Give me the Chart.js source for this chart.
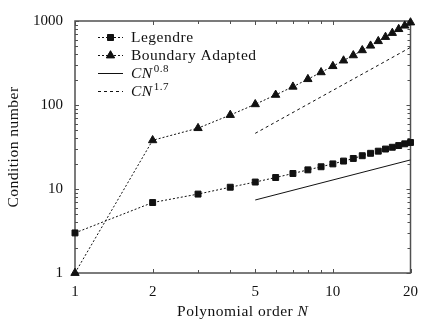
<!DOCTYPE html>
<html>
<head>
<meta charset="utf-8">
<script src="https://cdn.jsdelivr.net/npm/chart.js@4"></script>
<style>
  html, body { margin: 0; padding: 0; background: #fff; }
  #wrap { width: 428px; height: 321px; }
</style>
</head>
<body>
<div id="wrap"><canvas id="myChart"></canvas></div>
<script>
// polynomial order and measured condition numbers
const orders = [1, 2, 3, 4, 5, 6, 7, 8, 9, 10, 11, 12, 13, 14, 15, 16, 17, 18, 19, 20];
const legendre = [3.0, 6.9, 8.7, 10.5, 12.1, 13.7, 15.3, 16.9, 18.4, 19.9, 21.5, 23.1, 24.9, 26.6, 28.2, 29.9, 31.4, 32.9, 34.5, 35.8];
const boundaryAdapted = [1, 38, 53, 76, 102, 132, 165, 203, 245, 290, 338, 390, 448, 508, 575, 645, 720, 800, 880, 960];

// reference slopes, end points only (straight on log-log)
const fitOrders = [5, 20];
const fit08 = [7.4, 22.2];
const fit17 = [46, 485];

const xTickValues = [1, 2, 3, 4, 5, 6, 7, 8, 9, 10, 20];
const xTickLabels = [1, 2, 5, 10, 20];
const yTickLabels = [1, 10, 100, 1000];

const yTickValues = [];
for (let d = 1; d < 1000; d *= 10) {
    for (let k = 1; k < 10; k++) yTickValues.push(k * d);
}
yTickValues.push(1000);

const FONT = "'Liberation Serif', 'Times New Roman', serif";
const INK = '#111';
const AXIS = '#505050';
const TXT = '15.5px ';

Chart.defaults.font.family = FONT;
Chart.defaults.font.size = 15;
Chart.defaults.color = INK;

function pts(xs, ys) {
    return xs.map(function (x, i) { return { x: x, y: ys[i] }; });
}

// box around plot area + inward ticks on all four sides
const frame = {
    id: 'frame',
    beforeDatasetsDraw(chart) {
        const ctx = chart.ctx;
        const a = chart.chartArea;
        const xs = chart.scales.x, ys = chart.scales.y;
        ctx.save();
        ctx.strokeStyle = AXIS;
        ctx.lineWidth = 1;
        xTickValues.forEach(function (v) {
            const px = Math.round(xs.getPixelForValue(v)) + 0.5;
            const len = xTickLabels.includes(v) ? 4 : 3;
            ctx.beginPath();
            ctx.moveTo(px, a.bottom); ctx.lineTo(px, a.bottom - len);
            ctx.moveTo(px, a.top); ctx.lineTo(px, a.top + len);
            ctx.stroke();
        });
        yTickValues.forEach(function (v) {
            const py = Math.round(ys.getPixelForValue(v)) + 0.5;
            const len = yTickLabels.includes(v) ? 4 : 3;
            ctx.beginPath();
            ctx.moveTo(a.left, py); ctx.lineTo(a.left + len, py);
            ctx.moveTo(a.right, py); ctx.lineTo(a.right - len, py);
            ctx.stroke();
        });
        ctx.lineWidth = 1.5;
        ctx.strokeRect(a.left, a.top, a.right - a.left, a.bottom - a.top);
        ctx.restore();
    }
};

// legend entries and axis titles
const decorations = {
    id: 'decorations',
    afterDraw(chart) {
        const ctx = chart.ctx;
        const a = chart.chartArea;
        ctx.save();
        ctx.fillStyle = INK;
        ctx.strokeStyle = INK;
        ctx.textBaseline = 'middle';
        ctx.letterSpacing = '0.5px';

        const rows = [
            { y: 37, dash: [2, 2], marker: 'rect', text: 'Legendre' },
            { y: 55, dash: [2, 2], marker: 'triangle', text: 'Boundary Adapted' },
            { y: 73, dash: [], marker: null, text: 'CN', sup: '0.8' },
            { y: 91, dash: [3, 3], marker: null, text: 'CN', sup: '1.7' }
        ];
        const x0 = 98, x1 = 123, tx = 131;
        rows.forEach(function (r) {
            ctx.lineWidth = 1;
            ctx.setLineDash(r.dash);
            ctx.beginPath();
            ctx.moveTo(x0, r.y + 0.5); ctx.lineTo(x1, r.y + 0.5);
            ctx.stroke();
            ctx.setLineDash([]);
            if (r.marker) {
                Chart.helpers.drawPoint(ctx, {
                    pointStyle: r.marker,
                    radius: r.marker === 'rect' ? 4.2 : 4.8,
                    borderWidth: 1
                }, (x0 + x1) / 2, r.y + 0.5);
                ctx.fill();
            }
            ctx.textAlign = 'left';
            if (r.sup) {
                ctx.font = 'italic ' + TXT + FONT;
                ctx.fillText(r.text, tx, r.y + 1);
                const w = ctx.measureText(r.text).width;
                ctx.font = '11px ' + FONT;
                ctx.fillText(r.sup, tx + w + 1, r.y - 4);
            } else {
                ctx.font = TXT + FONT;
                ctx.fillText(r.text, tx, r.y + 1);
            }
        });

        // x title with italic N
        ctx.font = TXT + FONT;
        const part1 = 'Polynomial order ';
        const w1 = ctx.measureText(part1).width;
        ctx.font = 'italic ' + TXT + FONT;
        const w2 = ctx.measureText('N').width;
        const cx = (a.left + a.right) / 2;
        const sx = cx - (w1 + w2) / 2;
        ctx.textAlign = 'left';
        ctx.font = TXT + FONT;
        ctx.fillText(part1, sx, 312);
        ctx.font = 'italic ' + TXT + FONT;
        ctx.fillText('N', sx + w1, 312);

        // y title
        ctx.translate(14, (a.top + a.bottom) / 2);
        ctx.rotate(-Math.PI / 2);
        ctx.textAlign = 'center';
        ctx.font = TXT + FONT;
        ctx.fillText('Condition number', 0, 0);
        ctx.restore();
    }
};

const ctx = document.getElementById('myChart').getContext('2d');

const chart = new Chart(ctx, {
    type: 'line',
    data: {
        datasets: [{
            label: 'Legendre',
            data: pts(orders, legendre),
            borderColor: INK,
            backgroundColor: INK,
            borderWidth: 1,
            borderDash: [2, 2],
            pointStyle: 'rect',
            pointRadius: 4.2,
            pointBorderWidth: 1,
            clip: false
        },
        {
            label: 'Boundary Adapted',
            data: pts(orders, boundaryAdapted),
            borderColor: INK,
            backgroundColor: INK,
            borderWidth: 1,
            borderDash: [2, 2],
            pointStyle: 'triangle',
            pointRadius: 4.8,
            pointBorderWidth: 1,
            clip: false
        },
        {
            label: 'CN^0.8',
            data: pts(fitOrders, fit08),
            borderColor: INK,
            borderWidth: 1,
            pointRadius: 0
        },
        {
            label: 'CN^1.7',
            data: pts(fitOrders, fit17),
            borderColor: INK,
            borderWidth: 1,
            borderDash: [3, 3],
            pointRadius: 0
        }]
    },
    options: {
        responsive: true,
        maintainAspectRatio: false,
        animation: false,
        events: [],
        layout: { padding: { top: 14, right: 8, left: 0, bottom: 0 } },
        plugins: {
            legend: { display: false },
            tooltip: { enabled: false }
        },
        scales: {
            x: {
                type: 'logarithmic',
                min: 1,
                max: 20,
                border: { display: false },
                grid: { display: false, drawTicks: false },
                afterBuildTicks: function (s) {
                    s.ticks = xTickValues.map(function (v) { return { value: v }; });
                },
                afterFit: function (s) { s.height = 48; },
                ticks: {
                    autoSkip: false,
                    maxRotation: 0,
                    padding: 10,
                    callback: function (v) { return xTickLabels.includes(v) ? String(v) : ''; }
                }
            },
            y: {
                type: 'logarithmic',
                min: 1,
                max: 1000,
                border: { display: false },
                grid: { display: false, drawTicks: false },
                afterBuildTicks: function (s) {
                    s.ticks = yTickValues.map(function (v) { return { value: v }; });
                },
                afterFit: function (s) { s.width = 75; },
                ticks: {
                    autoSkip: false,
                    padding: 12,
                    callback: function (v) { return yTickLabels.includes(v) ? String(v) : ''; }
                }
            }
        }
    },
    plugins: [frame, decorations]
});
</script>
</body>
</html>
